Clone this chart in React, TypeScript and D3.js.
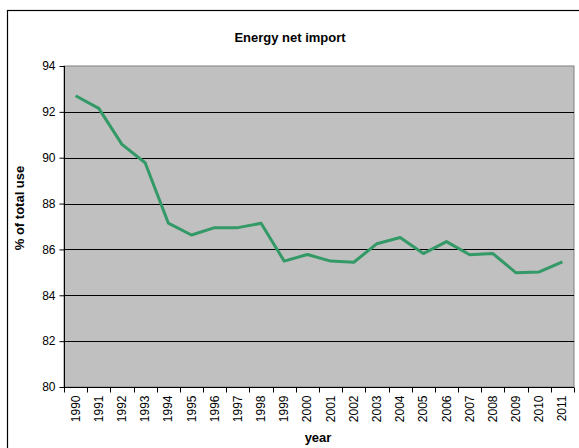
import { useEffect, useRef } from 'react';
import * as d3 from 'd3';

const years = ['1990', '1991', '1992', '1993', '1994', '1995', '1996', '1997', '1998', '1999', '2000', '2001',
  '2002', '2003', '2004', '2005', '2006', '2007', '2008', '2009', '2010', '2011'];
const importShare = [92.7, 92.15, 90.58, 89.78, 87.15, 86.63, 86.95, 86.95, 87.14, 85.49, 85.78, 85.49,
  85.44, 86.25, 86.52, 85.82, 86.34, 85.77, 85.82, 84.98, 85.02, 85.46];
const yTicks = [80, 82, 84, 86, 88, 90, 92, 94];

export default function App() {
  const svgRef = useRef<SVGSVGElement>(null);

  useEffect(() => {
    if (!svgRef.current) return;
    const W = 579, H = 448;
    const left = 64, right = 574, top = 66, bottom = 387;

    const svg = d3.select(svgRef.current);
    svg.selectAll('*').remove();
    svg.attr('width', W).attr('height', H)
      .style('font-family', '"Liberation Sans", Arial, sans-serif');

    // outer chart border (right/bottom edges fall outside the picture)
    svg.append('rect')
      .attr('x', 7.5).attr('y', 10.5)
      .attr('width', W).attr('height', H)
      .attr('fill', 'white').attr('stroke', '#000').attr('stroke-width', 1.2);

    const x = d3.scaleBand().domain(years).range([left, right]).padding(0);
    const y = d3.scaleLinear().domain([80, 94]).range([bottom, top]);

    // plot area
    svg.append('rect')
      .attr('x', left).attr('y', top)
      .attr('width', right - left).attr('height', bottom - top)
      .attr('fill', '#c0c0c0').attr('stroke', '#808080').attr('stroke-width', 1);

    // gridlines
    svg.append('g')
      .selectAll('line')
      .data(yTicks.filter(t => t > 80 && t < 94))
      .enter()
      .append('line')
      .attr('x1', left).attr('x2', right)
      .attr('y1', d => Math.round(y(d)) + 0.5).attr('y2', d => Math.round(y(d)) + 0.5)
      .attr('stroke', '#000').attr('stroke-width', 1);

    // y axis
    const yAxis = svg.append('g')
      .attr('transform', `translate(${left + 0.5},0)`)
      .call(d3.axisLeft(y).tickValues(yTicks).tickSize(5).tickPadding(4).tickFormat(d3.format('d')));
    yAxis.selectAll('path.domain').attr('stroke', '#000').attr('d', `M0,${top}V${bottom}`);
    yAxis.selectAll('text').style('font-size', '12px').attr('fill', '#000')
      .style('font-family', '"Liberation Sans", Arial, sans-serif');

    // x axis
    const xAxis = svg.append('g')
      .attr('transform', `translate(0,${bottom + 0.5})`);
    xAxis.append('line')
      .attr('x1', left).attr('x2', right).attr('stroke', '#000');
    const edges = d3.range(years.length + 1).map(i => left + i * x.step());
    xAxis.selectAll('line.tick')
      .data(edges)
      .enter()
      .append('line')
      .attr('class', 'tick')
      .attr('x1', d => Math.round(d) + 0.5).attr('x2', d => Math.round(d) + 0.5)
      .attr('y1', 0).attr('y2', 5)
      .attr('stroke', '#000');
    xAxis.selectAll('text')
      .data(years)
      .enter()
      .append('text')
      .attr('transform', d => `translate(${(x(d) || 0) + x.bandwidth() / 2 + 4},${8}) rotate(-90)`)
      .attr('text-anchor', 'end')
      .style('font-size', '12px')
      .text(d => d);

    // line
    const line = d3.line<number>()
      .x((_, i) => (x(years[i]) || 0) + x.bandwidth() / 2)
      .y(d => y(d));
    svg.append('path')
      .datum(importShare)
      .attr('d', line)
      .attr('fill', 'none')
      .attr('stroke', '#339966')
      .attr('stroke-width', 3)
      .attr('stroke-linejoin', 'round');

    // titles
    svg.append('text')
      .attr('x', 290).attr('y', 42)
      .attr('text-anchor', 'middle')
      .style('font-size', '13px').style('font-weight', 'bold')
      .text('Energy net import');
    svg.append('text')
      .attr('transform', `translate(24,208) rotate(-90)`)
      .attr('text-anchor', 'middle')
      .style('font-size', '13px').style('font-weight', 'bold')
      .text('% of total use');
    svg.append('text')
      .attr('x', 318).attr('y', 442)
      .attr('text-anchor', 'middle')
      .style('font-size', '13px').style('font-weight', 'bold')
      .text('year');
  }, []);

  return (
    <div style={{ position: 'absolute', left: 0, top: 0, width: 579, height: 448, overflow: 'hidden', background: '#fff' }}>
      <svg ref={svgRef}></svg>
    </div>
  );
}
